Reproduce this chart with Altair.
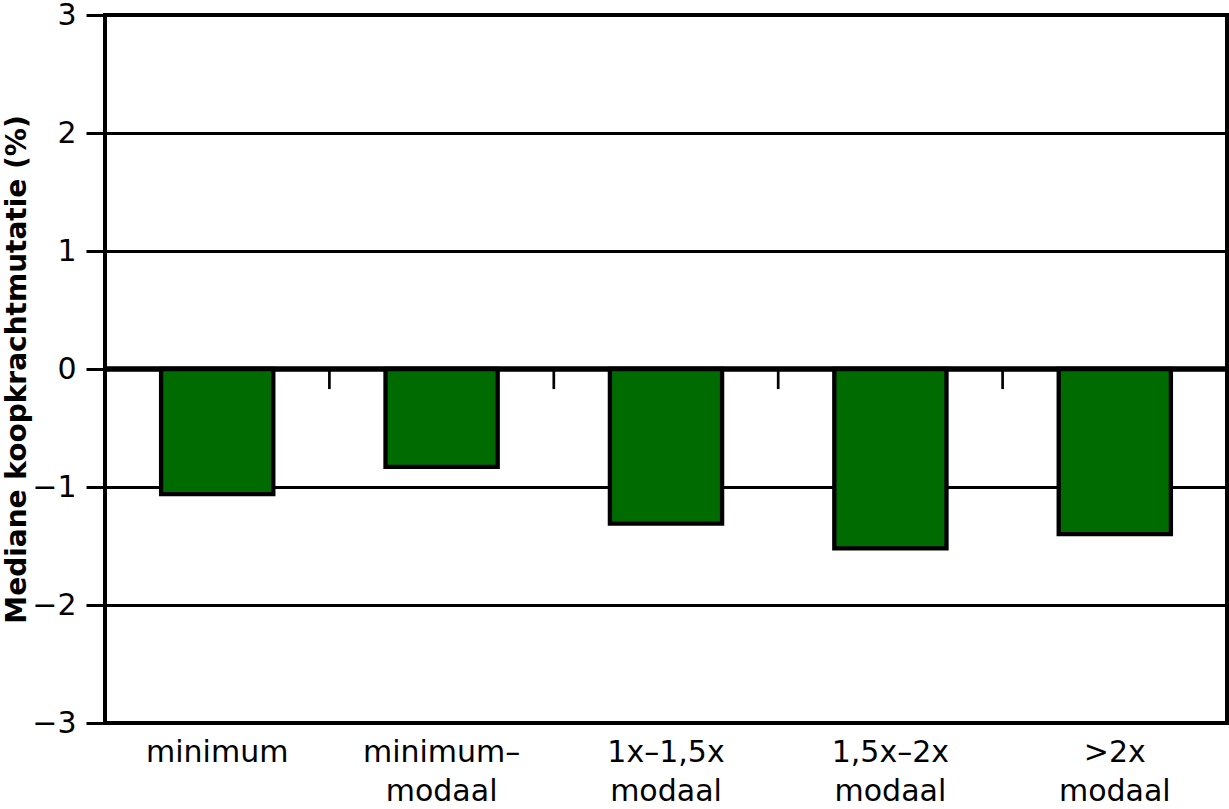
import altair as alt
import pandas as pd

categories = ["minimum", "minimum–\nmodaal", "1x–1,5x\nmodaal", "1,5x–2x\nmodaal", ">2x\nmodaal"]
values = [-1.06, -0.83, -1.31, -1.52, -1.40]
y_ticks = [-3, -2, -1, 0, 1, 2, 3]

df = pd.DataFrame({"cat": categories, "value": values})
df_sep = pd.DataFrame({"cat": categories[:-1]})

FONT = "DejaVu Sans"
PLOT_W = 1122
STEP = PLOT_W / 5

x_enc = alt.X(
    "cat:N",
    sort=categories,
    scale=alt.Scale(paddingInner=0.5, paddingOuter=0.25),
    axis=alt.Axis(
        title=None,
        orient="bottom",
        ticks=False,
        domain=False,
        labelAngle=0,
        labelFont=FONT,
        labelFontSize=30,
        labelColor="black",
        labelPadding=14,
        labelLineHeight=39,
        labelExpr="split(datum.label, '\\n')",
    ),
)

y_enc = alt.Y(
    "value:Q",
    scale=alt.Scale(domain=[-3, 3], nice=False, zero=False),
    axis=alt.Axis(
        values=y_ticks,
        format="d",
        title="Mediane koopkrachtmutatie (%)",
        titleFont=FONT,
        titleFontSize=28,
        titleFontWeight="bold",
        titleColor="black",
        titlePadding=0,
        labelFont=FONT,
        labelFontSize=30,
        labelColor="black",
        labelPadding=10,
        tickSize=19,
        tickWidth=3,
        tickColor="black",
        domain=False,
        grid=True,
        gridColor="black",
        gridWidth=3,
    ),
)

zero_line = alt.Chart(df).mark_rule(color="black", strokeWidth=4.5).encode(
    y=alt.datum(0)
)

bars = alt.Chart(df).mark_bar(
    color="#006B00", stroke="black", strokeWidth=4.3
).encode(x=x_enc, y=y_enc)

seps = alt.Chart(df_sep).mark_rule(
    color="black", strokeWidth=2.7, xOffset=STEP / 4
).encode(
    x=alt.X("cat:N", sort=categories, bandPosition=1),
    y=alt.datum(0),
    y2=alt.datum(-0.17),
)

chart = (
    alt.layer(zero_line, bars, seps)
    .properties(
        width=PLOT_W,
        height=708,
        autosize=alt.AutoSizeParams(type="none"),
        padding={"left": 105, "top": 15, "right": 2, "bottom": 86},
    )
    .configure(background="white")
    .configure_view(stroke="black", strokeWidth=4)
)

chart.save("out.html", embed_options={"renderer": "svg", "actions": False})
